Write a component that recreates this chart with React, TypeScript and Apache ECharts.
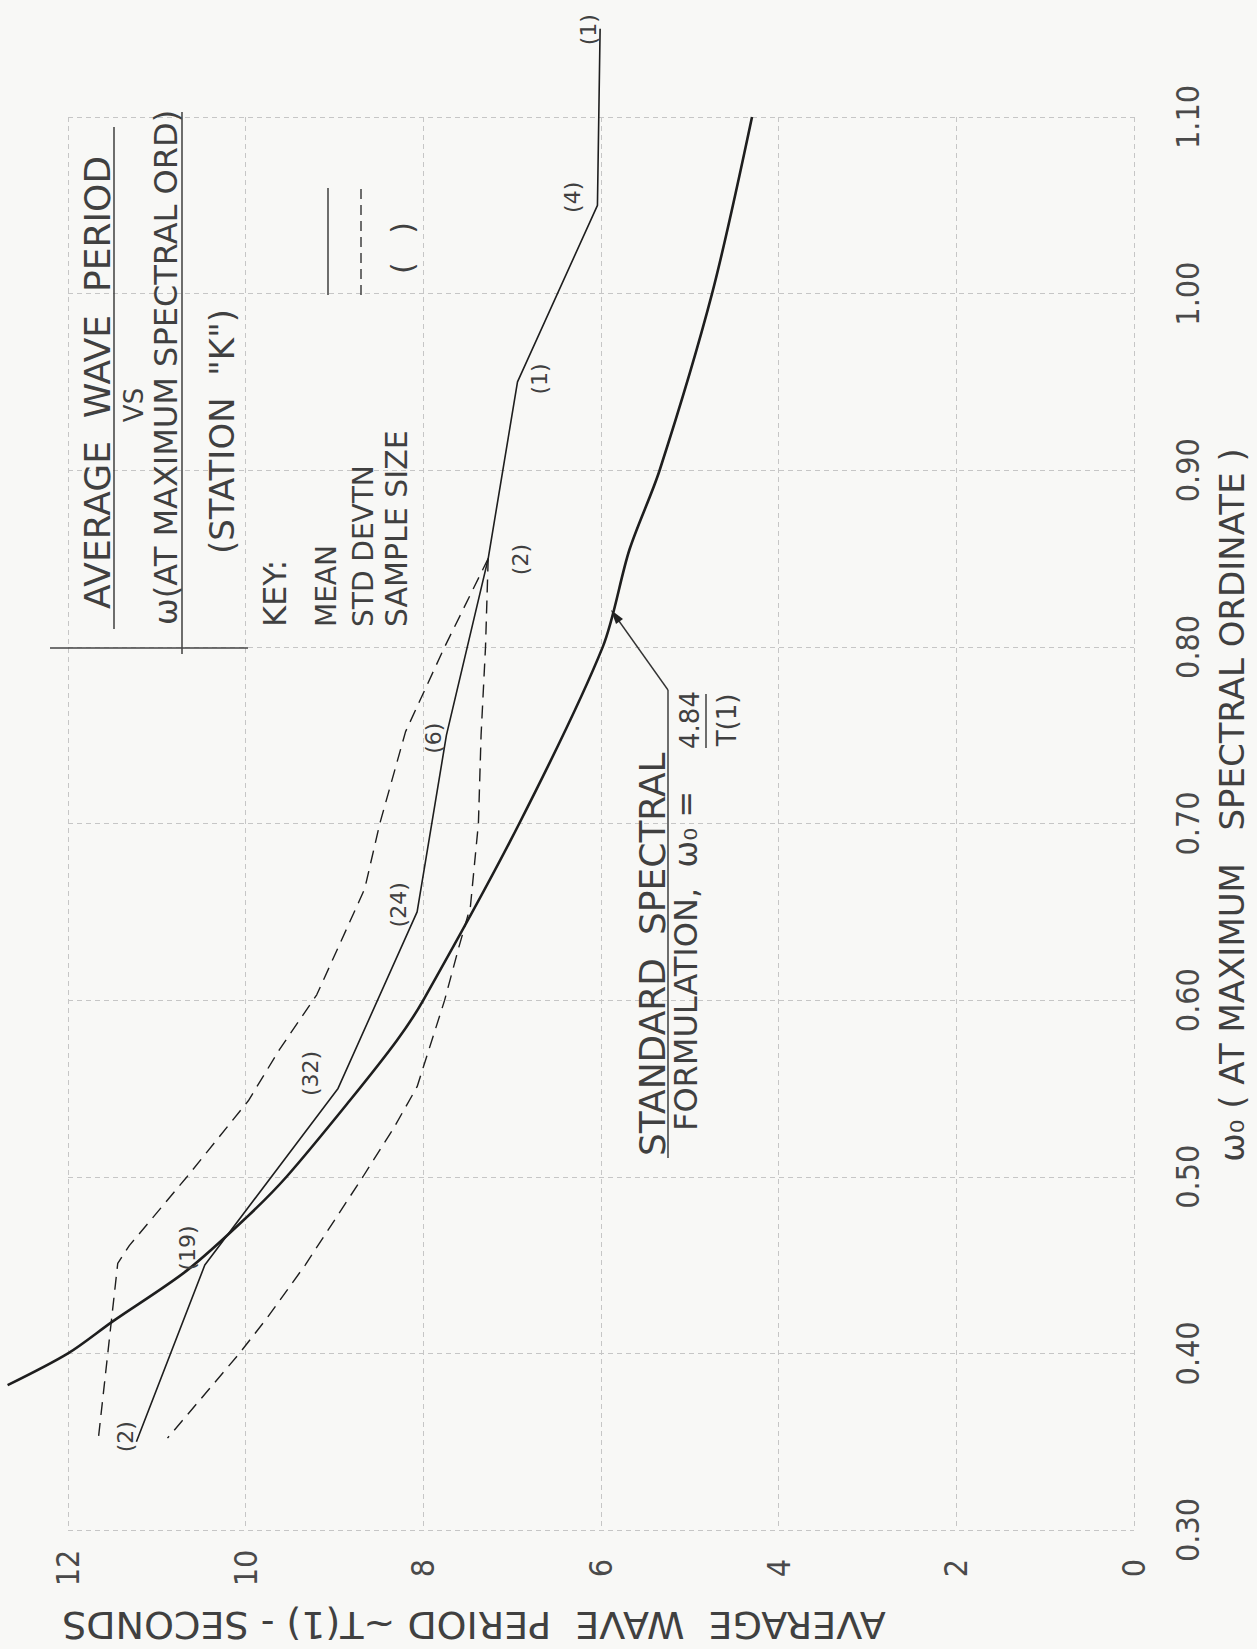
import React, { useEffect, useRef } from 'react';
import * as echarts from 'echarts';

// ---- data (T = average wave period, s ; W = omega_0) ----
const standardT = [4.3, 4.75, 5.34, 5.68, 5.98, 6.92, 8.0, 8.3, 8.83, 9.54, 9.99, 10.66, 11.5, 12.0, 12.68];
const standardW = [1.1, 1.0, 0.9, 0.855, 0.8, 0.7, 0.6, 0.577, 0.543, 0.5, 0.477, 0.447, 0.418, 0.4, 0.382];

const meanW = [1.15, 1.05, 0.95, 0.85, 0.75, 0.65, 0.55, 0.45, 0.35];
const meanT = [6.01, 6.04, 6.94, 7.27, 7.74, 8.07, 8.96, 10.46, 11.23];
const sampleSize = [1, 4, 1, 2, 6, 24, 32, 19, 2];

const upperT = [7.27, 7.76, 8.2, 8.49, 8.66, 9.2, 9.62, 9.97, 10.66, 11.31, 11.44, 11.55, 11.66];
const upperW = [0.85, 0.8, 0.752, 0.7, 0.663, 0.603, 0.572, 0.543, 0.5, 0.461, 0.451, 0.401, 0.351];

const lowerT = [7.27, 7.3, 7.35, 7.38, 7.47, 7.6, 7.76, 8.07, 8.34, 8.68, 9.33, 9.76, 10.07, 10.88];
const lowerW = [0.85, 0.8, 0.75, 0.7, 0.653, 0.63, 0.6, 0.551, 0.527, 0.5, 0.45, 0.42, 0.4, 0.352];

// axis ranges
const T_MIN = 0;
const T_MAX = 12;
const T_STEP = 2;
const T_DRAW_MAX = 12.7; // drawing range (curves run a little past the last grid line)
const W_MIN = 0.3;
const W_MAX = 1.1;
const W_STEP = 0.1;

// ---- layout (pixel offsets of the sample-size labels from their mean points) ----
const sampleOffsets = [[-12, 1], [-25, -8], [22, -3], [32, 1], [-13, 3], [-19, -7], [-28, -15], [-17, -17], [-11, -5]];

const GRID_LEFT = 68;
const GRID_RIGHT = 123;
const GRID_TOP = 117;
const GRID_BOTTOM = 119;
const PLOT_W = 1257 - GRID_LEFT - GRID_RIGHT;
const DRAW_LEFT = GRID_LEFT - ((T_DRAW_MAX - T_MAX) * PLOT_W) / (T_MAX - T_MIN);

const INK = '#1e1e1e';
const TXT = '#404040';
const FONT = '"DejaVu Sans", "Liberation Sans", sans-serif';
const NUMFONT = '"DejaVu Sans Condensed", "DejaVu Sans", sans-serif';

const pairs = (xs: number[], ys: number[]) => xs.map((x, i) => [x, ys[i]]);

function vtext(text: string, x: number, y: number, size: number, align: string = 'left', rot: number = Math.PI / 2) {
  return {
    type: 'text',
    x,
    y,
    rotation: rot,
    z: 10,
    style: {
      text,
      fontSize: size,
      fontFamily: FONT,
      fill: TXT,
      textAlign: align,
      verticalAlign: 'middle',
      textVerticalAlign: 'middle',
    },
  };
}

function seg(x1: number, y1: number, x2: number, y2: number, w = 1.4, dash?: number[], color = '#333') {
  return {
    type: 'line',
    z: 10,
    shape: { x1, y1, x2, y2 },
    style: { stroke: color, lineWidth: w, lineDash: dash },
  };
}

const staticGraphics: any[] = [
  // title block
  vtext('AVERAGE  WAVE  PERIOD', 97, 609, 36),
  seg(114, 629, 114, 127, 1.4),
  vtext('VS', 134, 405, 26, 'center'),
  vtext('\u03c9(AT MAXIMUM SPECTRAL ORD)', 166, 625, 32),
  seg(182, 654, 182, 112, 1.4),
  vtext('(STATION  "K")', 222, 554, 34),
  vtext('KEY:', 275, 627, 32),
  vtext('MEAN', 326, 627, 28),
  vtext('STD DEVTN', 363, 627, 28),
  vtext('SAMPLE SIZE', 396, 627, 30),
  seg(328, 295, 328, 188, 1.4),
  seg(361, 295, 361, 188, 1.4, [10, 6]),
  vtext('(   )', 402, 248, 30, 'center'),
  seg(50, 648, 248, 648, 1.6, undefined, '#444'),
  // standard formulation note
  vtext('STANDARD  SPECTRAL', 652, 1156, 36),
  seg(668, 1158, 668, 690, 1.4),
  seg(668, 690, 614, 614, 1.4),
  {
    type: 'polygon',
    z: 10,
    shape: { points: [[611, 610], [623, 619], [616, 624]] },
    style: { fill: '#222' },
  },
  vtext('FORMULATION,  \u03c9\u2080 =', 686, 1131, 32),
  vtext('4.84', 690, 720, 26, 'center'),
  seg(706, 694, 706, 748, 1.4),
  vtext('T(1)', 727, 720, 26, 'center'),
  // axis titles
  vtext('AVERAGE  WAVE  PERIOD ~T(1) - SECONDS', 474, 1625, 38, 'center', Math.PI),
  vtext('\u03c9\u2080 ( AT MAXIMUM   SPECTRAL ORDINATE )', 1232, 805, 34, 'center'),
];

export default function App() {
  const ref = useRef<HTMLDivElement>(null);

  useEffect(() => {
    if (!ref.current) return;
    const chart = echarts.init(ref.current, null, { renderer: 'svg' });
    const gridLine = { show: true, lineStyle: { color: '#c6c6c6', width: 1, type: [5, 4] } };
    const hiddenAxis = {
      show: false,
      axisLine: { show: false },
      axisTick: { show: false },
      axisLabel: { show: false },
      splitLine: { show: false },
    };
    const lineSeries = (name: string, data: number[][], width: number, dashed: boolean) => ({
      name,
      type: 'line',
      xAxisIndex: 1,
      yAxisIndex: 1,
      data,
      showSymbol: false,
      symbol: 'none',
      clip: false,
      lineStyle: { color: INK, width, type: dashed ? [13, 8] : 'solid' },
    });
    const option: any = {
      animation: false,
      backgroundColor: '#f8f8f6',
      grid: [
        { left: GRID_LEFT, right: GRID_RIGHT, top: GRID_TOP, bottom: GRID_BOTTOM, containLabel: false },
        { left: DRAW_LEFT, right: GRID_RIGHT, top: GRID_TOP, bottom: GRID_BOTTOM, containLabel: false },
      ],
      xAxis: [
        {
          gridIndex: 0,
          type: 'value',
          min: T_MIN,
          max: T_MAX,
          interval: T_STEP,
          inverse: true,
          position: 'bottom',
          axisLine: { show: false },
          axisTick: { show: false },
          splitLine: gridLine,
          axisLabel: {
            rotate: 90,
            margin: 38,
            align: 'center',
            verticalAlign: 'middle',
            fontSize: 32,
            fontFamily: NUMFONT,
            color: '#4a4a4a',
            formatter: (v: number) => String(Math.round(v)),
          },
        },
        { gridIndex: 1, type: 'value', min: T_MIN, max: T_DRAW_MAX, inverse: true, ...hiddenAxis },
      ],
      yAxis: [
        {
          gridIndex: 0,
          type: 'value',
          min: W_MIN,
          max: W_MAX,
          interval: W_STEP,
          position: 'right',
          axisLine: { show: false },
          axisTick: { show: false },
          splitLine: gridLine,
          axisLabel: {
            rotate: 90,
            margin: 54,
            align: 'center',
            verticalAlign: 'middle',
            fontSize: 32,
            fontFamily: NUMFONT,
            color: '#4a4a4a',
            formatter: (v: number) => v.toFixed(2),
          },
        },
        { gridIndex: 1, type: 'value', min: W_MIN, max: W_MAX, ...hiddenAxis },
      ],
      series: [
        { ...lineSeries('Standard spectral formulation', pairs(standardT, standardW), 2.6, false), smooth: 0.3 },
        lineSeries('Mean', pairs(meanT, meanW), 1.6, false),
        lineSeries('Mean + std devtn', pairs(upperT, upperW), 1.4, true),
        lineSeries('Mean - std devtn', pairs(lowerT, lowerW), 1.4, true),
      ],
    };
    chart.setOption(option);

    const sampleLabels = meanT.map((t, i) => {
      const p = chart.convertToPixel({ gridIndex: 1 }, [t, meanW[i]]) as number[];
      const o = sampleOffsets[i];
      return vtext(`(${sampleSize[i]})`, p[0] + o[0], p[1] + o[1], 22, 'center');
    });
    chart.setOption({ graphic: { elements: [...staticGraphics, ...sampleLabels] } });

    return () => chart.dispose();
  }, []);

  return (
    <div
      ref={ref}
      style={{ position: 'fixed', left: 0, top: 0, width: 1257, height: 1649, background: '#f8f8f6' }}
    />
  );
}
